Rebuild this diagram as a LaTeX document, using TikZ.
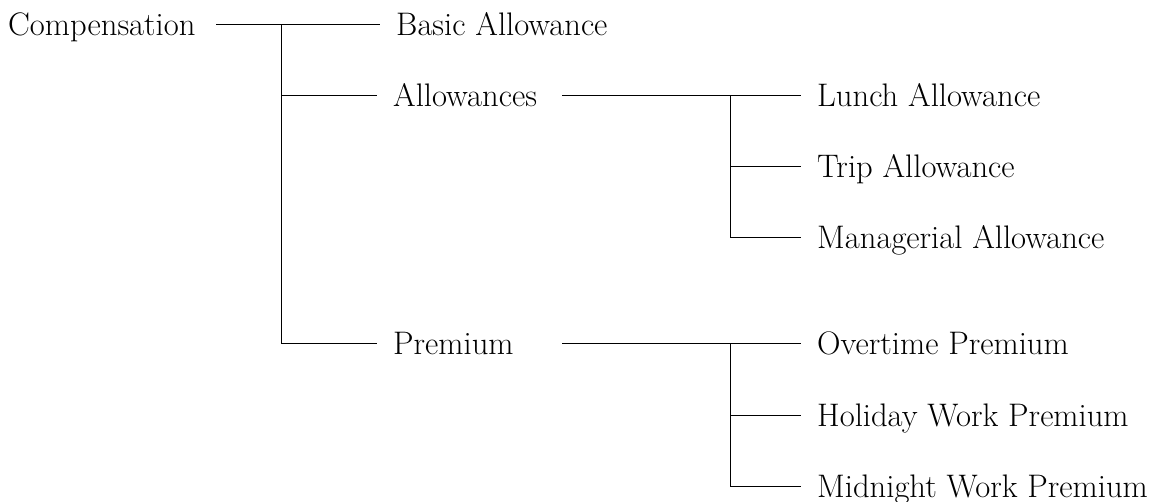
\documentclass[tikz,border=0pt]{standalone}
\begin{document}
\begin{tikzpicture}[x=1pt,y=-1pt,
  lbl/.style={anchor=west,inner xsep=0pt,inner ysep=0pt,text height=22pt,text depth=0pt,
    font=\fontsize{32.6}{38}\selectfont},
  leaf/.style={lbl,inner xsep=16pt},
  conn/.style={line width=1pt}]
\useasboundingbox (0,0) rectangle (1152,502);
% labels
\node[lbl]  (comp)  at (8,24.5)   {Compensation};
\node[leaf] (basic) at (380,24.5) {Basic Allowance};
\node[leaf] (allow) at (377,95.5) {Allowances};
\node[leaf] (prem)  at (377,344)  {Premium};
\node[leaf] (lunch) at (801,95.5) {Lunch Allowance};
\node[leaf] (trip)  at (801,167)  {Trip Allowance};
\node[leaf] (mgr)   at (801,238)  {Managerial Allowance};
\node[leaf] (over)  at (801,344)  {Overtime Premium};
\node[leaf] (holi)  at (801,416)  {Holiday Work Premium};
\node[leaf] (mid)   at (801,487)  {Midnight Work Premium};
% junction points
\coordinate (c0) at (216,24.5);
\coordinate (j0) at (281,24.5);
\coordinate (j0a) at (281,95.5);
\coordinate (j0p) at (281,344);
\coordinate (a0) at (562,95.5);
\coordinate (j1) at (730,95.5);
\coordinate (j1t) at (730,167);
\coordinate (j1m) at (730,238);
\coordinate (p0) at (562,344);
\coordinate (j2) at (730,344);
\coordinate (j2h) at (730,416);
\coordinate (j2m) at (730,487);
% connectors
\draw[conn] (c0) -- (basic.west);
\draw[conn] (j0) -- (j0p) -- (prem.west);
\draw[conn] (j0a) -- (allow.west);
\draw[conn] (a0) -- (lunch.west);
\draw[conn] (j1) -- (j1m) -- (mgr.west);
\draw[conn] (j1t) -- (trip.west);
\draw[conn] (p0) -- (over.west);
\draw[conn] (j2) -- (j2m) -- (mid.west);
\draw[conn] (j2h) -- (holi.west);
\end{tikzpicture}
\end{document}
